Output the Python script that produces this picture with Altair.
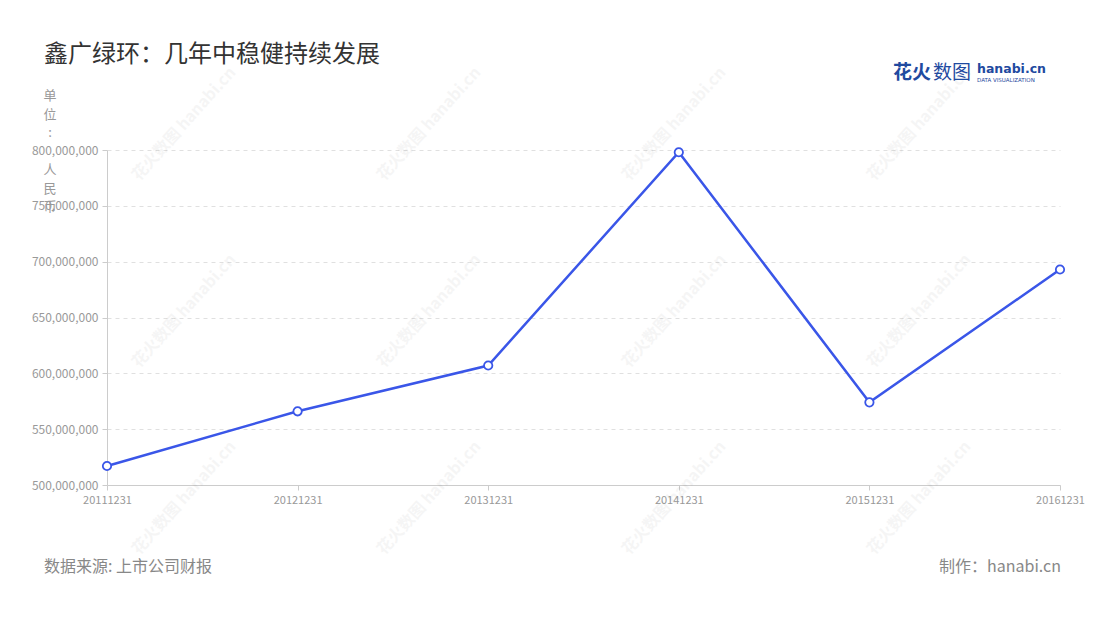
import altair as alt
import pandas as pd

dates = ["20111231", "20121231", "20131231", "20141231", "20151231", "20161231"]
values = [517000000, 566000000, 607000000, 798000000, 574000000, 693000000]
y_ticks = [500000000, 550000000, 600000000, 650000000, 700000000, 750000000, 800000000]

title_text = "鑫广绿环：几年中稳健持续发展"
unit_top = ["单", "位", ":"]
unit_bottom = ["人", "民", "币"]
source_text = "数据来源: 上市公司财报"
maker_text = "制作：hanabi.cn"
watermark_text = "花火数图 hanabi.cn"

df = pd.DataFrame({"date": dates, "value": values})
one = pd.DataFrame({"k": [0]})

FONT = "Noto Sans CJK SC"
BLUE = "#3a56e8"

base = alt.Chart(df).encode(
    x=alt.X("date:N", sort=dates,
            scale=alt.Scale(type="point", padding=0),
            axis=alt.Axis(title=None, labelAngle=0, labelColor="#999", labelFontSize=11,
                          labelFont=FONT, domainColor="#ccc", tickColor="#ccc", tickSize=5,
                          labelPadding=4, grid=False)),
    y=alt.Y("value:Q", scale=alt.Scale(domain=[500000000, 800000000], nice=False, zero=False),
            axis=alt.Axis(title=None, values=y_ticks, format=",.0f", labelColor="#999",
                          labelFontSize=12, labelFont=FONT, domainColor="#ccc", tickColor="#ccc",
                          tickSize=5, labelPadding=4, gridColor="#e0e0e0", gridDash=[4, 4])),
)

line = base.mark_line(color=BLUE, strokeWidth=2.5)
pts = base.mark_point(filled=True, fill="white", stroke=BLUE, strokeWidth=1.8, size=70, opacity=1)

def txt(text, x, y, size, color, align="left", weight="normal", baseline="middle",
        font=FONT, lh=None, angle=None, opacity=None):
    kw = dict(align=align, baseline=baseline, fontSize=size, color=color, font=font, fontWeight=weight)
    if lh is not None:
        kw["lineHeight"] = lh
    if angle is not None:
        kw["angle"] = angle
    if opacity is not None:
        kw["opacity"] = opacity
    return alt.Chart(one).mark_text(**kw).encode(
        x=alt.value(x), y=alt.value(y), text=alt.value(text))

# faint decorative watermark grid (relative to the plot origin)
marks = []
for col in range(4):
    for row in range(3):
        cx = 184 - 107 + col * 245
        cy = 124 - 150 + row * 187
        marks.append(txt(watermark_text, cx, cy, 16, "#000", align="center", weight="bold",
                         angle=312, opacity=0.035))

title = txt(title_text, -63, -95, 24, "#333")
unit1 = txt(unit_top, -57, -54, 13, "#999", align="center", baseline="middle", lh=18.5)
unit2 = txt(unit_bottom, -57, 20, 13, "#999", align="center", baseline="middle", lh=18.5)
source = txt(source_text, -63, 417, 16, "#888")
maker = txt(maker_text, 954, 417, 16, "#888", align="right")
logo1 = txt("花火", 786, -77, 19, "#1f4aa0", weight="bold")
logo1b = txt("数图", 826, -77, 19, "#1f4aa0")
logo2 = txt("hanabi.cn", 870, -81, 12.5, "#1f4aa0", weight="bold", font="DejaVu Sans")
logo3 = txt("DATA VISUALIZATION", 870, -70, 5.5, "#1f4aa0", font="DejaVu Sans")

chart = alt.layer(*marks, line, pts, title, unit1, unit2, source, maker,
                  logo1, logo1b, logo2, logo3).properties(
    width=953, height=335,
    autosize=alt.AutoSizeParams(type="none"),
    padding={"left": 99, "top": 142, "right": 32, "bottom": 127},
    background="white",
).configure_view(stroke=None)

chart.save("out.html", embed_options={"renderer": "svg", "actions": False})
